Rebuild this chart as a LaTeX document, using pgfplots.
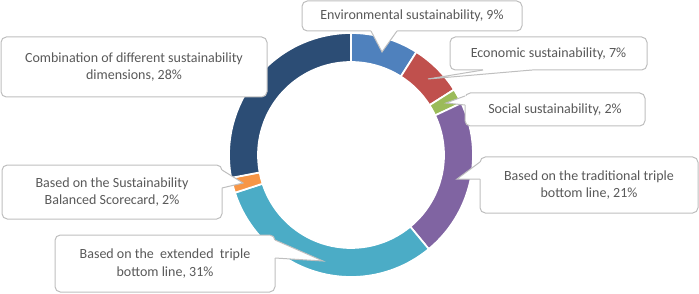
\documentclass[border=0pt]{standalone}
\usepackage{pgfplots}
\pgfplotsset{compat=1.18}
\usepackage{pgfplotstable}
\usepackage{fontspec}
\setmainfont{Carlito}

\definecolor{slice0}{HTML}{4F81BD}
\definecolor{slice1}{HTML}{C0504D}
\definecolor{slice2}{HTML}{9BBB59}
\definecolor{slice3}{HTML}{8064A2}
\definecolor{slice4}{HTML}{4BACC6}
\definecolor{slice5}{HTML}{F79646}
\definecolor{slice6}{HTML}{2C4D75}
\definecolor{labelgray}{HTML}{595959}
\definecolor{boxgray}{HTML}{BFBFBF}

% share of each category (%), clockwise from 12 o'clock
\pgfplotstableread{
share
9
7
2
21
31
2
28
}\shares

\newcommand{\callbox}[5]{%
  \draw[boxgray, fill=white, rounded corners=4pt, line width=0.75pt]
    (axis cs:#1,#2) rectangle (axis cs:#3,#4);
  \node[align=center, text=labelgray, font=\fontsize{10.5}{13.3}\selectfont, inner sep=0pt]
    at (axis cs:{(#1+#3)/2},{(#2+#4)/2}) {#5};
}
% pointer: tip, base1, base2, inward shift (dx,dy)
\newcommand{\calltail}[8]{%
  \fill[white] (axis cs:#1,#2) -- (axis cs:#3,#4) -- (axis cs:{#3+#7},{#4+#8})
     -- (axis cs:{#5+#7},{#6+#8}) -- (axis cs:#5,#6) -- cycle;
  \draw[boxgray, line width=0.75pt] (axis cs:#3,#4) -- (axis cs:#1,#2) -- (axis cs:#5,#6);
}

\begin{document}
\begin{tikzpicture}
\begin{axis}[
  scale only axis,
  width=524.25pt, height=219.75pt,
  xmin=0, xmax=699, ymin=0, ymax=293,
  hide axis, clip=false,
]
\def\astart{90}
\pgfplotsforeachungrouped \i in {0,...,6}{%
  \pgfplotstablegetelem{\i}{share}\of\shares
  \pgfmathsetmacro\aend{\astart-3.6*\pgfplotsretval}%
  \edef\cmd{\noexpand\fill[fill=slice\i, draw=white, line width=1.3pt,
     shift={(axis cs:351,138)}]
     (\astart:91.5pt) arc[start angle=\astart, end angle=\aend, radius=91.5pt]
     -- (\aend:69.75pt) arc[start angle=\aend, end angle=\astart, radius=69.75pt] -- cycle;}%
  \cmd
  \global\let\astart\aend
}

% Combination
\callbox{1}{196}{267}{256}{Combination of different sustainability\\dimensions, 28\%}
% Environmental
\callbox{302}{262}{522}{292}{Environmental sustainability, 9\%}
\calltail{382}{241}{371}{262}{397}{262}{0}{2}
% Economic
\callbox{450}{223}{647}{256}{Economic sustainability, 7\%}
\calltail{428}{214}{483}{223}{532}{223}{0}{2}
% Social
\callbox{465}{167}{645}{200}{Social sustainability, 2\%}
\calltail{446}{190}{465}{197}{465}{188}{2}{0}
% Traditional
\callbox{480}{80}{698}{136}{Based on the traditional triple\\bottom line, 21\%}
\calltail{457}{114}{480}{131}{480}{114}{2}{0}
% BSC
\callbox{2}{74}{222}{128}{Based on the Sustainability\\Balanced Scorecard, 2\%}
\calltail{243}{110}{222}{123}{222}{105}{-2}{0}
% Extended
\callbox{55}{1}{275}{58}{Based on the~ extended~ triple\\bottom line, 31\%}
\calltail{323}{32}{275}{53}{275}{35}{-2}{0}
\end{axis}
\pgfresetboundingbox
\useasboundingbox (current axis.south west) rectangle (current axis.north east);
\end{tikzpicture}
\end{document}
